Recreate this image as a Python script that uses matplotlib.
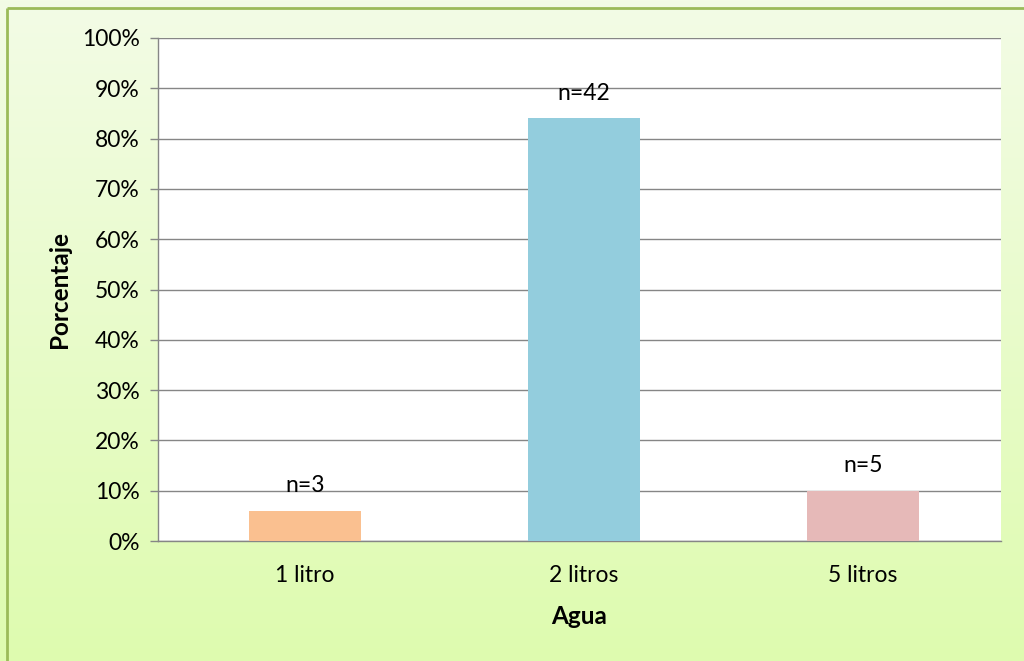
import matplotlib
matplotlib.use("Agg")
import matplotlib.pyplot as plt
import numpy as np
from matplotlib.colors import LinearSegmentedColormap
from matplotlib.ticker import PercentFormatter

categories = ["1 litro", "2 litros", "5 litros"]
values = [6, 84, 10]
labels = ["n=3", "n=42", "n=5"]
colors = ["#FAC090", "#93CDDD", "#E6B9B8"]

plt.rcParams['font.family'] = ['Lato', 'DejaVu Sans']

W, H = 1024, 661
fig = plt.figure(figsize=(W / 100, H / 100), dpi=100)

# background gradient
bg = fig.add_axes([0, 0, 1, 1], zorder=-10)
cmap = LinearSegmentedColormap.from_list("g", ["#F3FCE6", "#DEFBAF"])
grad = np.linspace(0, 1, 256).reshape(-1, 1)
bg.imshow(grad, aspect="auto", cmap=cmap, extent=[0, 1, 0, 1], origin="upper")
bg.set_xlim(0, 1)
bg.set_ylim(0, 1)
bg.axis("off")
# border (top and left visible)
bg.plot([7 / W, 7 / W], [0, 1 - 8 / H], color="#9BBB59", lw=2, solid_capstyle="butt")
bg.plot([7 / W, 1], [1 - 8 / H, 1 - 8 / H], color="#9BBB59", lw=2, solid_capstyle="butt")

left, right, top, bottom = 158, 1001, 38, 541
ax = fig.add_axes([left / W, 1 - bottom / H, (right - left) / W, (bottom - top) / H])
ax.set_facecolor("white")

x = np.arange(len(categories))
ax.bar(x, values, width=0.4, color=colors, zorder=3)
for xi, v, lab in zip(x, values, labels):
    ax.annotate(lab, (xi, v), xytext=(0, 25), textcoords="offset pixels",
                ha="center", va="center", fontsize=16.5, color="#000000", zorder=4)

ax.set_xlim(-0.527, 2.495)
ax.set_ylim(0, 100)
ax.set_yticks(np.arange(0, 101, 10))
ax.yaxis.set_major_formatter(PercentFormatter(decimals=0))
ax.yaxis.grid(True, color="#868686", lw=1, zorder=0)
ax.set_axisbelow(True)
ax.set_xticks(x)
ax.set_xticklabels(categories)
ax.tick_params(axis="x", length=0, pad=17, labelsize=16.5)
ax.tick_params(axis="y", length=6, width=1, color="#868686", pad=7, labelsize=16.5)
for s in ["top", "right"]:
    ax.spines[s].set_visible(False)
for s in ["left", "bottom"]:
    ax.spines[s].set_color("#868686")
    ax.spines[s].set_linewidth(1)

ax.set_xlabel("Agua", fontsize=17.5, fontweight="bold", labelpad=14)
ax.set_ylabel("Porcentaje", fontsize=17.5, fontweight="bold", labelpad=8)

fig.savefig("out.png", dpi=100)
